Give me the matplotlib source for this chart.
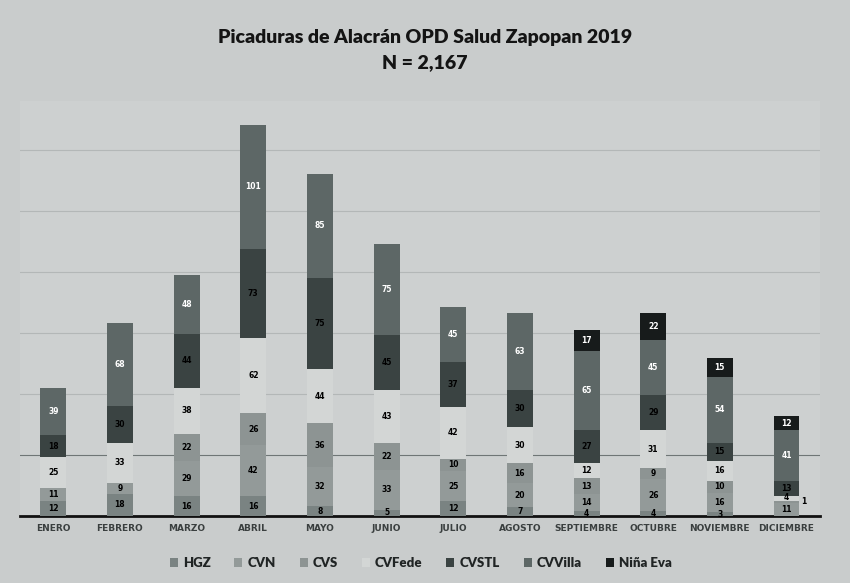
import numpy as np
import matplotlib.pyplot as plt

# months
meses = ["ENERO", "FEBRERO", "MARZO", "ABRIL", "MAYO", "JUNIO", "JULIO",
         "AGOSTO", "SEPTIEMBRE", "OCTUBRE", "NOVIEMBRE", "DICIEMBRE"]

# cases per unit, stacked bottom -> top
hgz = [12, 18, 16, 16, 8, 5, 12, 7, 4, 4, 3, 0]
cvn = [11, 9, 29, 42, 32, 33, 25, 20, 14, 26, 16, 11]
cvs = [0, 0, 22, 26, 36, 22, 10, 16, 13, 9, 10, 1]
cvfede = [25, 33, 38, 62, 44, 43, 42, 30, 12, 31, 16, 4]
cvstl = [18, 30, 44, 73, 75, 45, 37, 30, 27, 29, 15, 13]
cvvilla = [39, 68, 48, 101, 85, 75, 45, 63, 65, 45, 54, 41]
nina_eva = [0, 0, 0, 0, 0, 0, 0, 0, 17, 22, 15, 12]

series = [("HGZ", hgz), ("CVN", cvn), ("CVS", cvs), ("CVFede", cvfede),
          ("CVSTL", cvstl), ("CVVilla", cvvilla), ("Niña Eva", nina_eva)]
colores = ["#7a8382", "#939a99", "#8d9493", "#d3d6d5", "#3a4342", "#5d6766", "#171b1b"]
txt_col = ["black", "black", "black", "black", "black", "white", "white"]

fondo = "#c9cccc"
fig = plt.figure(figsize=(8.5, 5.83), dpi=100, facecolor=fondo)
ax = fig.add_axes([0.0235, 0.115, 0.941, 0.712])
ax.set_facecolor("#cdd0d0")

x = np.arange(len(meses))
base = np.zeros(len(meses))
for i, ((nombre, vals), c, tc) in enumerate(zip(series, colores, txt_col)):
    vals = np.array(vals)
    ax.bar(x, vals, 0.39, bottom=base, color=c, label=nombre, zorder=3)
    for xi, b, v in zip(x, base, vals):
        if v <= 0:
            continue
        if v < 3:
            # tiny segment: label beside the bar
            ax.text(xi + 0.22, b + v / 2, str(v), ha="left", va="center",
                    fontsize=5.5, fontweight="bold", color="black", zorder=4)
            continue
        yv = b + v / 2
        if v < 6 and i > 0:
            yv += 1.5
        ax.text(xi, yv, str(v), ha="center", va="center",
                fontsize=5.5, fontweight="bold", color=tc, zorder=4)
    base += vals

ax.set_xlim(-0.5, 11.5)
ax.set_ylim(0, 340)
ax.set_yticks(np.arange(50, 340, 50))
ax.yaxis.grid(True, color="#b3b7b7", lw=0.8, zorder=0)
ax.get_ygridlines()[0].set_color("#6f7676")
ax.tick_params(axis="y", left=False, labelleft=False)
ax.set_xticks(x)
ax.set_xticklabels(meses, fontsize=6.5, fontweight="bold", color="#3a3f3f")
ax.tick_params(axis="x", length=0, pad=6)
for s in ["top", "right", "left"]:
    ax.spines[s].set_visible(False)
ax.spines["bottom"].set_linewidth(2)
ax.spines["bottom"].set_color("#111")

fig.text(0.5, 0.935, "Picaduras de Alacrán OPD Salud Zapopan 2019", ha="center",
         va="center", fontsize=14, fontweight="heavy", family="Lato", color="#141414")
fig.text(0.5, 0.893, "N = 2,167", ha="center", va="center", fontsize=14,
         fontweight="heavy", family="Lato", color="#141414")

leg = fig.legend(loc="center", bbox_to_anchor=(0.495, 0.034), ncol=7, frameon=False,
                 handlelength=0.6, handleheight=0.6, columnspacing=1.8, handletextpad=0.4,
                 prop={"family": "Lato", "weight": "heavy", "size": 9.5})
for t in leg.get_texts():
    t.set_color("#202424")

plt.savefig("out.png", dpi=100, facecolor=fondo)
